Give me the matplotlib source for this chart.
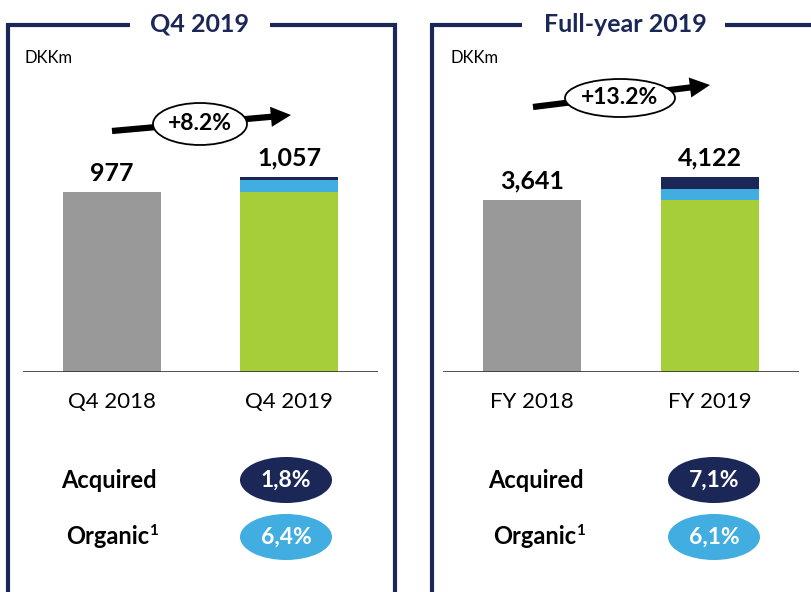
import matplotlib
matplotlib.use("Agg")
import matplotlib.pyplot as plt
from matplotlib.patches import Ellipse, FancyArrowPatch
from matplotlib.lines import Line2D

plt.rcParams['font.family'] = ['Lato', 'DejaVu Sans']

# ---- data ----
panel_titles = ['Q4 2019', 'Full-year 2019']
q4_categories = ['Q4 2018', 'Q4 2019']
fy_categories = ['FY 2018', 'FY 2019']
q4_prior = 977
q4_base = 977
q4_organic = 63
q4_acquired = 17
q4_total = 1057
fy_prior = 3641
fy_base = 3641
fy_organic = 222
fy_acquired = 259
fy_total = 4122
growth_labels = ['+8.2%', '+13.2%']
acquired_pct = ['1,8%', '7,1%']
organic_pct = ['6,4%', '6,1%']
unit_label = 'DKKm'

NAVY = '#1b2857'
LBLUE = '#41ade0'
GREEN = '#a6ce39'
GRAY = '#999999'

W, H = 811, 592
fig = plt.figure(figsize=(W / 100, H / 100), dpi=100)


def fx(x):
    return x / W


def fy(y):
    return 1 - y / H


def add_axes_px(x0, x1, ytop, ybot):
    return fig.add_axes([fx(x0), fy(ybot), (x1 - x0) / W, (ybot - ytop) / H])


panels = [
    dict(ax=add_axes_px(23, 378, 100, 372), cats=q4_categories, prior=q4_prior,
         base=q4_base, org=q4_organic, acq=q4_acquired, total=q4_total),
    dict(ax=add_axes_px(443, 799, 100, 372), cats=fy_categories, prior=fy_prior,
         base=fy_base, org=fy_organic, acq=fy_acquired, total=fy_total),
]

bw = 0.552
for p in panels:
    ax = p['ax']
    ax.bar([0], [p['prior']], width=bw, color=GRAY, zorder=2)
    ax.bar([1], [p['base']], width=bw, color=GREEN, zorder=2)
    ax.bar([1], [p['org']], width=bw, bottom=[p['base']], color=LBLUE, zorder=2)
    ax.bar([1], [p['acq']], width=bw, bottom=[p['base'] + p['org']], color=NAVY, zorder=2)
    ax.set_xlim(-0.5, 1.5)
    ax.set_ylim(0, p['total'] * 1.395)
    ax.axis('off')
    ax.axhline(0, color='#333333', lw=1.2, zorder=3)
    for i, v in enumerate([p['prior'], p['total']]):
        ax.annotate(f'{v:,}', xy=(i, v), xytext=(0, 8), textcoords='offset points',
                    ha='center', va='baseline', fontsize=18, fontweight='bold', color='black')
    for i, c in enumerate(p['cats']):
        ax.annotate(c, xy=(i, 0), xytext=(0, -26), textcoords='offset points',
                    ha='center', va='baseline', fontsize=16, color='black', annotation_clip=False)

# ---- frames ----
lw_frame = 3.0
frames = [
    [(130, 25), (8, 25), (8, 600)],
    [(270, 25), (395, 25), (395, 600)],
    [(522, 25), (432, 25), (432, 600)],
    [(725, 25), (820, 25)],
]
for seg in frames:
    xs = [fx(a) for a, b in seg]
    ys = [fy(b) for a, b in seg]
    fig.add_artist(Line2D(xs, ys, color=NAVY, lw=lw_frame, transform=fig.transFigure,
                          solid_joinstyle='miter', solid_capstyle='butt'))

title_pos = [(200, 24), (625, 24)]
for t, (x, y) in zip(panel_titles, title_pos):
    fig.text(fx(x), fy(y), t, ha='center', va='center', fontsize=18, fontweight='bold', color=NAVY)

for x in [25, 450]:
    fig.text(fx(x), fy(58), unit_label, ha='left', va='center', fontsize=12, color='black')

# ---- growth arrows ----
arrows = [((112, 131), (291, 115), (200, 124), 94, 42),
          ((533, 107), (710, 85), (620, 98), 110, 38)]
for (s, e, c, ew, eh), lab in zip(arrows, growth_labels):
    fig.add_artist(FancyArrowPatch(
        (fx(s[0]), fy(s[1])), (fx(e[0]), fy(e[1])), transform=fig.transFigure,
        arrowstyle='simple,head_length=1.45,head_width=1.45,tail_width=0.45',
        mutation_scale=10, lw=0, facecolor='black', shrinkA=0, shrinkB=0, zorder=3))
    fig.add_artist(Ellipse((fx(c[0]), fy(c[1])), ew / W, eh / H, transform=fig.transFigure,
                           facecolor='white', edgecolor='black', lw=1.3, zorder=4))
    fig.text(fx(c[0]), fy(c[1]), lab, ha='center', va='center', fontsize=16.5,
             fontweight='bold', color='black', zorder=5)

# ---- bottom legend rows ----
label_x = [109, 536]
pill_x = [286, 714]
rows = [(480, 'Acquired', acquired_pct, NAVY, False), (537, 'Organic', organic_pct, LBLUE, True)]
for y, name, vals, col, sup in rows:
    for lx, px_, v in zip(label_x, pill_x, vals):
        if sup:
            fig.text(fx(lx + 40), fy(y), name, ha='right', va='center', fontsize=17,
                     fontweight='bold', color='black')
            fig.text(fx(lx + 40), fy(y - 6), '1', ha='left', va='center', fontsize=11,
                     fontweight='bold', color='black')
        else:
            fig.text(fx(lx), fy(y), name, ha='center', va='center', fontsize=17,
                     fontweight='bold', color='black')
        fig.add_artist(Ellipse((fx(px_), fy(y)), 92 / W, 46 / H, transform=fig.transFigure,
                               facecolor=col, edgecolor='none', zorder=4))
        fig.text(fx(px_), fy(y), v, ha='center', va='center', fontsize=16.5,
                 fontweight='bold', color='white', zorder=5)

fig.savefig('out.png', dpi=100)
